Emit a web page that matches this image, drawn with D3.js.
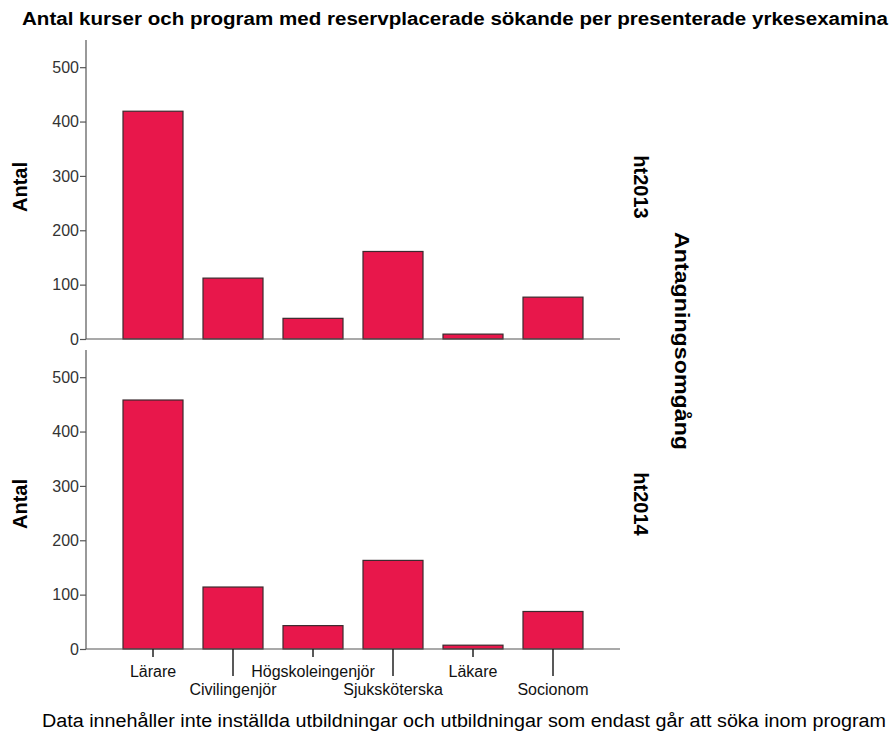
<!DOCTYPE html>
<html>
<head>
<meta charset="utf-8">
<script src="https://cdn.jsdelivr.net/npm/d3@7"></script>
<style>
  html, body { margin: 0; padding: 0; background: #fff; }
  svg { display: block; }
</style>
</head>
<body>
<svg id="chart" width="891" height="738"></svg>
<script>
const categories = ["Lärare", "Civilingenjör", "Högskoleingenjör", "Sjuksköterska", "Läkare", "Socionom"];
const panels = ["ht2013", "ht2014"];
const valuesHt2013 = [419, 112, 38, 161, 9, 77];
const valuesHt2014 = [458, 114, 43, 163, 7, 69];
const yTicks = [0, 100, 200, 300, 400, 500];
const titleText = "Antal kurser och program med reservplacerade sökande per presenterade yrkesexamina";
const footnoteText = "Data innehåller inte inställda utbildningar och utbildningar som endast går att söka inom program";
const yLabel = "Antal";
const facetLabel = "Antagningsomgång";

const svg = d3.select("#chart");
const barColor = "#E8174B";
const axisColor = "#555";
const sans = "'Liberation Sans', Arial, sans-serif";
const narrow = "'Liberation Sans Narrow', 'Arial Narrow', 'Liberation Sans', Arial, sans-serif";

const x = d3.scaleBand().domain(categories).range([113, 593]).paddingInner(0.25).paddingOuter(0.125);
const axisLeft = 86, axisRight = 620;

const panelDefs = [
  { name: panels[0], values: valuesHt2013, y0: 339, y1: 40, labelY: 187 },
  { name: panels[1], values: valuesHt2014, y0: 649, y1: 350, labelY: 504 }
];

// title
svg.append("text")
  .attr("x", 22).attr("y", 25)
  .attr("font-family", narrow).attr("font-weight", "bold").attr("font-size", 18)
  .attr("textLength", 866).attr("lengthAdjust", "spacingAndGlyphs")
  .attr("fill", "#000")
  .text(titleText);

panelDefs.forEach((p, pi) => {
  const y = d3.scaleLinear().domain([0, 550]).range([p.y0, p.y1]);
  const g = svg.append("g");

  // bars
  g.selectAll("rect.bar").data(categories).enter().append("rect")
    .attr("class", "bar")
    .attr("x", d => x(d))
    .attr("width", x.bandwidth())
    .attr("y", (d, i) => y(p.values[i]))
    .attr("height", (d, i) => y(0) - y(p.values[i]))
    .attr("fill", barColor)
    .attr("stroke", "#3b2a2e")
    .attr("stroke-width", 1.2);

  // y axis
  const ya = g.append("g").attr("transform", `translate(${axisLeft},0)`)
    .call(d3.axisLeft(y).tickValues(yTicks).tickSize(6).tickSizeOuter(0).tickFormat(d3.format("d")));
  ya.select(".domain").remove();
  ya.selectAll(".tick line").attr("stroke", axisColor).attr("stroke-width", 1.2);
  ya.selectAll(".tick text").attr("font-family", sans).attr("font-size", 16).attr("fill", "#333").attr("x", -7);
  g.append("line").attr("x1", axisLeft).attr("x2", axisLeft).attr("y1", p.y1).attr("y2", p.y0)
    .attr("stroke", axisColor).attr("stroke-width", 1.2);
  // x axis line
  g.append("line").attr("x1", axisLeft).attr("x2", axisRight).attr("y1", p.y0).attr("y2", p.y0)
    .attr("stroke", axisColor).attr("stroke-width", 1.2);

  // y label
  g.append("text")
    .attr("transform", `translate(27,${p.labelY}) rotate(-90)`)
    .attr("text-anchor", "middle")
    .attr("font-family", sans).attr("font-weight", "bold").attr("font-size", 20)
    .text(yLabel);

  // panel label
  g.append("text")
    .attr("transform", `translate(634,${p.labelY}) rotate(90)`)
    .attr("text-anchor", "middle")
    .attr("font-family", sans).attr("font-weight", "bold").attr("font-size", 20)
    .text(p.name);

  // x axis ticks and labels only on bottom panel
  if (pi === panelDefs.length - 1) {
    const xa = svg.append("g").attr("transform", `translate(0,${p.y0})`)
      .call(d3.axisBottom(x).tickSizeOuter(0));
    xa.select(".domain").remove();
    xa.selectAll(".tick line")
      .attr("y2", (d, i) => i % 2 === 0 ? 8 : 27)
      .attr("stroke", "#222").attr("stroke-width", 1.5);
    xa.selectAll(".tick text")
      .attr("y", (d, i) => i % 2 === 0 ? 28 : 46)
      .attr("dy", 0)
      .attr("font-family", sans).attr("font-size", 16).attr("fill", "#111");
  }
});

// facet label
svg.append("text")
  .attr("transform", `translate(675,341) rotate(90)`)
  .attr("text-anchor", "middle")
  .attr("font-family", sans).attr("font-weight", "bold").attr("font-size", 21)
  .attr("textLength", 218).attr("lengthAdjust", "spacingAndGlyphs")
  .text(facetLabel);

// footnote
svg.append("text")
  .attr("x", 42).attr("y", 727)
  .attr("font-family", narrow).attr("font-size", 18)
  .attr("textLength", 844).attr("lengthAdjust", "spacingAndGlyphs")
  .attr("fill", "#000")
  .text(footnoteText);
</script>
</body>
</html>
